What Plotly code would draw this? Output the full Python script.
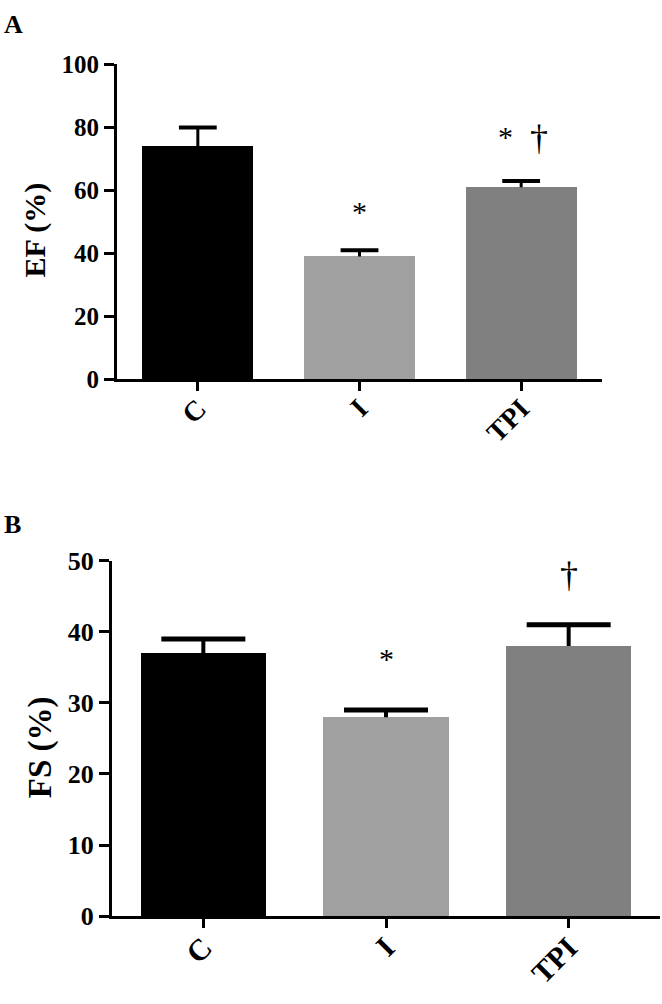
import plotly.graph_objects as go

# ── Data ──────────────────────────────────────────────────────────────────────
groups = ["C", "I", "TPI"]
ef_mean = [74, 39, 61]
ef_err = [6, 2, 2]
fs_mean = [37, 28, 38]
fs_err = [2, 1, 3]
bar_colors = ["#000000", "#a0a0a0", "#808080"]

ef_ticks = [0, 20, 40, 60, 80, 100]
fs_ticks = [0, 10, 20, 30, 40, 50]

W, H = 662, 1004
FONT = "Times New Roman, Liberation Serif, serif"


def px_x(p):
    return p / W


def px_y(p):
    return 1 - p / H


def add_panel(fig, means, errs, xa, ya, stem_w, cap_px):
    """Bars plus one-sided (upward) SEM bars drawn from the data arrays."""
    fig.add_trace(go.Bar(
        x=groups, y=means, width=0.685,
        marker=dict(color=bar_colors, line=dict(width=0)),
        xaxis=xa, yaxis=ya, showlegend=False, hoverinfo="skip",
    ))
    # stems: mean -> mean + err
    sx, sy = [], []
    for g, m, e in zip(groups, means, errs):
        sx += [g, g, None]
        sy += [m, m + e, None]
    fig.add_trace(go.Scatter(
        x=sx, y=sy, mode="lines", line=dict(color="#000", width=stem_w),
        xaxis=xa, yaxis=ya, showlegend=False, hoverinfo="skip",
    ))
    # caps
    fig.add_trace(go.Scatter(
        x=groups, y=[m + e for m, e in zip(means, errs)], mode="markers",
        marker=dict(symbol="line-ew", size=cap_px,
                    line=dict(color="#000", width=stem_w + 1)),
        xaxis=xa, yaxis=ya, showlegend=False, hoverinfo="skip",
    ))


fig = go.Figure()
add_panel(fig, ef_mean, ef_err, "x", "y", 3, 27)
add_panel(fig, fs_mean, fs_err, "x2", "y2", 4, 60)


# ── Axes ──────────────────────────────────────────────────────────────────────
def xaxis(domain, anchor, size):
    return dict(
        domain=domain, anchor=anchor, range=[-0.5, 2.5],
        showline=True, linecolor="#000", linewidth=3,
        ticks="outside", ticklen=9, tickwidth=3, tickcolor="#000",
        tickangle=-45, ticklabelstandoff=-10,
        showgrid=False, zeroline=False,
        tickfont=dict(family=FONT, size=size, color="#000", weight="bold"),
    )


def yaxis(domain, anchor, rng, vals, size):
    return dict(
        domain=domain, anchor=anchor, range=rng,
        tickvals=vals, showline=True, linecolor="#000", linewidth=3,
        ticks="outside", ticklen=10, tickwidth=3, tickcolor="#000",
        showgrid=False, zeroline=False,
        tickfont=dict(family=FONT, size=size, color="#000", weight="bold"),
    )


fig.update_layout(
    width=W, height=H,
    margin=dict(l=0, r=0, t=0, b=0),
    paper_bgcolor="white", plot_bgcolor="white",
    bargap=0,
    xaxis=xaxis([px_x(117), px_x(602)], "y", 28),
    yaxis=yaxis([px_y(376), px_y(52)], "x", [0, 100], ef_ticks, 25),
    xaxis2=xaxis([px_x(112), px_x(660)], "y2", 30),
    yaxis2=yaxis([px_y(929), px_y(563)], "x2", [0, 50], fs_ticks, 26),
)

# ── Text: panel letters, axis titles, significance marks ─────────────────────
bold = dict(family=FONT, color="#000", weight="bold")
plain = dict(family=FONT, color="#000")
notes = [
    dict(text="A", x=px_x(2), y=px_y(11), xanchor="left", yanchor="middle",
         font=dict(size=26, **bold)),
    dict(text="B", x=px_x(2), y=px_y(526), xanchor="left", yanchor="middle",
         font=dict(size=26, **bold)),
    dict(text="EF (%)", x=px_x(35), y=px_y(223), xanchor="center",
         yanchor="middle", textangle=-90, font=dict(size=30, **bold)),
    dict(text="FS (%)", x=px_x(40), y=px_y(755), xanchor="center",
         yanchor="middle", textangle=-90, font=dict(size=33, **bold)),
]
for n in notes:
    fig.add_annotation(xref="paper", yref="paper", showarrow=False, **n)

marks = [
    ("*", 1, 53.2, "x", "y", 30),
    ("*", 1.9, 77.2, "x", "y", 30),
    ("†", 2.11, 76.5, "x", "y", 36),
    ("*", 1, 36.2, "x2", "y2", 30),
    ("†", 2.0, 48.0, "x2", "y2", 36),
]
for txt, mx, my, xr, yr, sz in marks:
    fig.add_annotation(text=txt, x=mx, y=my, xref=xr, yref=yr, showarrow=False,
                       xanchor="center", yanchor="middle",
                       font=dict(size=sz, **plain))

fig.write_html("out.html", config={"displayModeBar": False},
               post_script="document.body.style.margin='0';")
